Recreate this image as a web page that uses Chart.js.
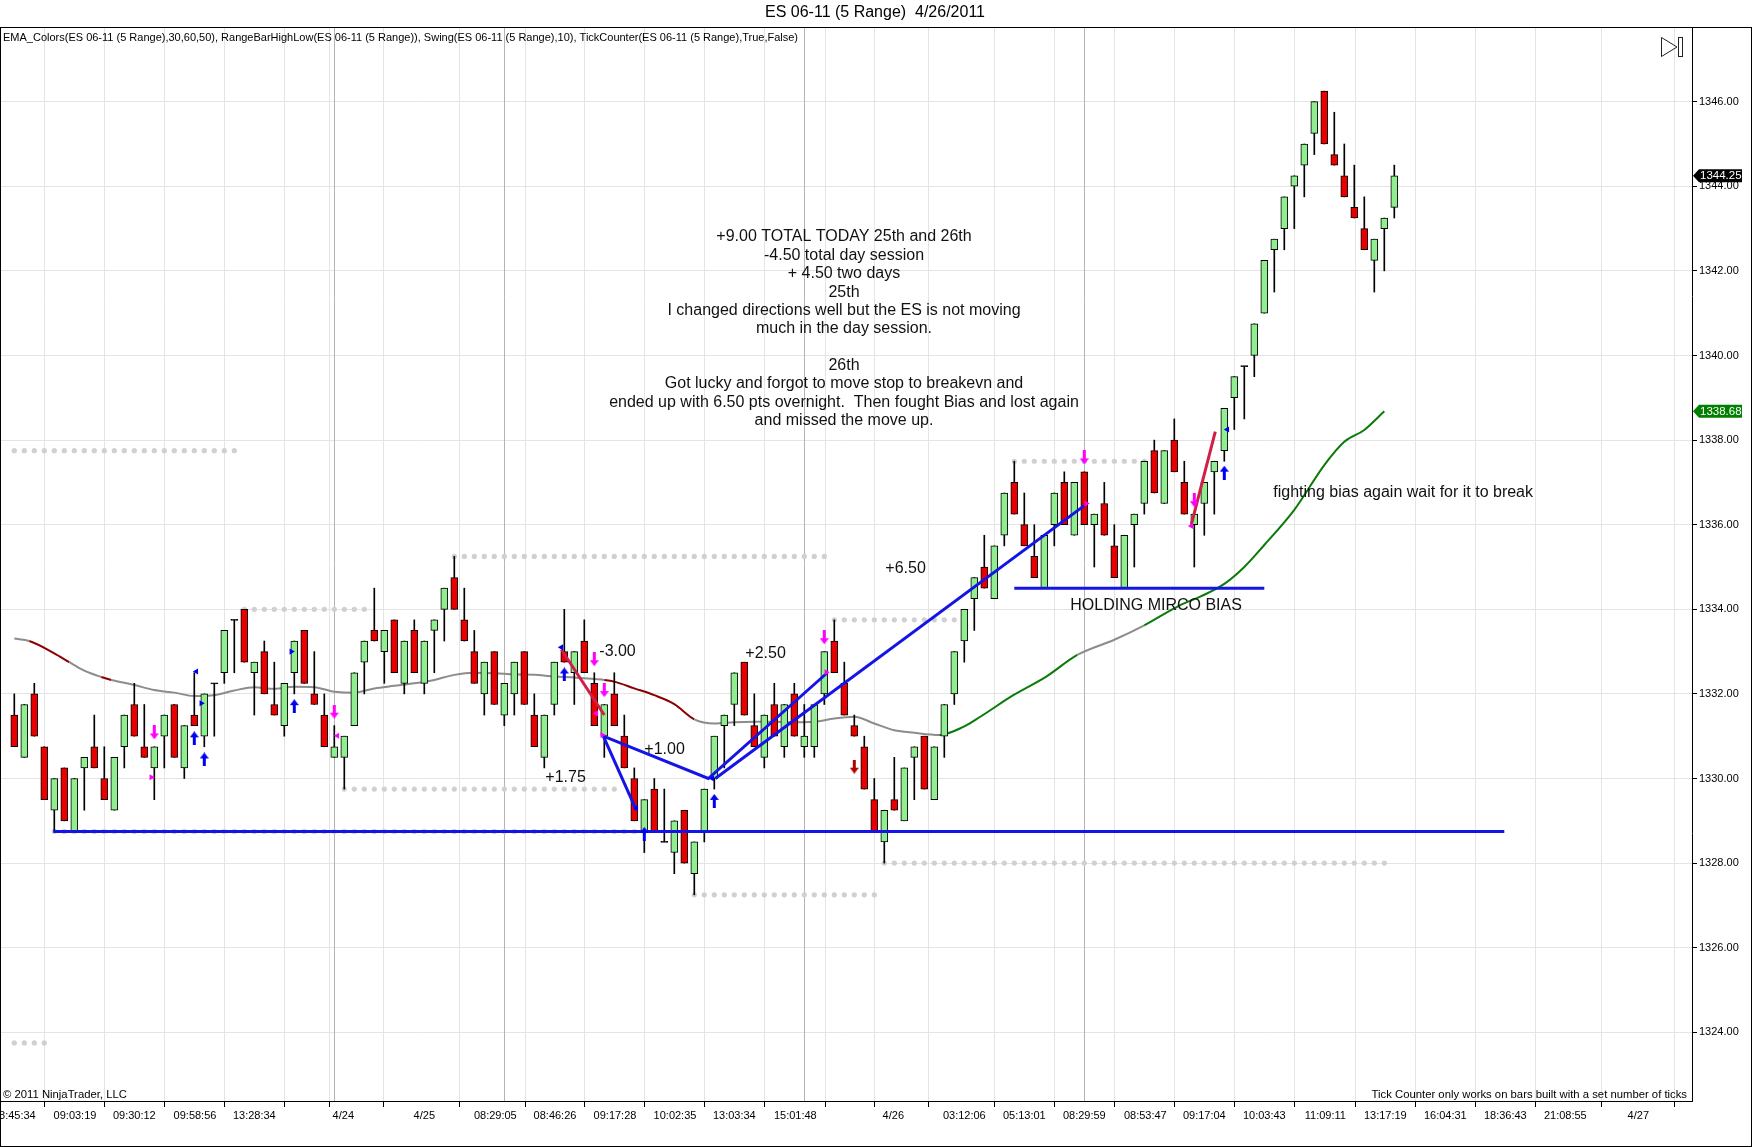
<!DOCTYPE html>
<html>
<head>
<meta charset="utf-8">
<title>ES 06-11 (5 Range) 4/26/2011</title>
<script src="https://cdn.jsdelivr.net/npm/chart.js@4.4.1/dist/chart.umd.min.js"></script>
<style>
  html, body { margin: 0; padding: 0; background: #fff; }
  #wrap { width: 1752px; height: 1147px; }
</style>
</head>
<body>
<div id="wrap"><canvas id="chart" width="1752" height="1147"></canvas></div>
<script>
// range bars (5 ticks), oldest first
const opens = [
  1331.50, 1330.50, 1332.00, 1330.75, 1329.25, 1330.25, 1328.75, 1330.25, 1330.75, 1330.00,
  1329.25, 1330.75, 1331.75, 1330.75, 1330.25, 1331.00, 1331.75, 1330.25, 1331.50, 1331.00,
  1332.25, 1332.50, 1333.75, 1334.00, 1332.50, 1333.00, 1331.75, 1331.25, 1332.50, 1333.50,
  1332.00, 1331.50, 1330.50, 1330.50, 1331.25, 1332.75, 1333.50, 1333.00, 1333.75, 1332.25,
  1333.50, 1332.25, 1333.50, 1334.00, 1334.75, 1333.75, 1333.00, 1332.00, 1333.00, 1331.50,
  1332.00, 1333.00, 1331.50, 1330.50, 1331.75, 1333.00, 1332.50, 1333.25, 1332.25, 1331.00,
  1332.00, 1331.00, 1330.00, 1328.75, 1329.75, 1328.50, 1328.25, 1329.25, 1327.75, 1328.75,
  1330.00, 1331.25, 1331.75, 1332.75, 1331.25, 1330.50, 1331.75, 1330.75, 1332.00, 1330.75,
  1330.75, 1332.00, 1333.25, 1332.25, 1331.25, 1330.75, 1329.50, 1328.50, 1329.50, 1329.00,
  1330.50, 1331.00, 1329.50, 1331.00, 1332.00, 1333.25, 1334.25, 1335.00, 1334.25, 1335.75,
  1337.00, 1336.00, 1335.25, 1334.50, 1336.00, 1337.00, 1335.75, 1337.25, 1336.00, 1336.50,
  1335.50, 1334.50, 1336.00, 1336.50, 1337.75, 1336.50, 1338.00, 1337.00, 1336.00, 1336.50,
  1337.25, 1337.75, 1339.00, 1339.75, 1340.00, 1341.00, 1342.50, 1343.00, 1344.00, 1344.50,
  1345.25, 1346.25, 1344.75, 1344.25, 1343.50, 1343.00, 1342.25, 1343.00, 1343.50
];
const highs = [
  1332.00, 1331.75, 1332.25, 1330.75, 1330.00, 1330.25, 1330.00, 1330.50, 1331.50, 1330.75,
  1330.50, 1331.50, 1332.25, 1331.75, 1330.75, 1331.50, 1331.75, 1331.25, 1332.50, 1332.00,
  1332.25, 1333.50, 1333.75, 1334.00, 1332.75, 1333.25, 1332.75, 1332.25, 1333.25, 1333.50,
  1333.00, 1332.00, 1331.25, 1331.00, 1332.50, 1333.25, 1334.50, 1333.50, 1333.75, 1333.25,
  1333.75, 1333.25, 1333.75, 1334.50, 1335.25, 1334.50, 1333.50, 1332.75, 1333.00, 1332.25,
  1332.75, 1333.00, 1332.00, 1331.50, 1332.75, 1334.00, 1333.00, 1333.75, 1332.50, 1331.75,
  1332.50, 1331.50, 1330.25, 1329.50, 1330.00, 1329.75, 1329.00, 1329.25, 1328.50, 1329.75,
  1331.00, 1331.50, 1332.50, 1332.75, 1332.00, 1331.50, 1332.25, 1331.75, 1332.25, 1331.75,
  1331.75, 1333.00, 1333.75, 1332.75, 1331.50, 1331.00, 1330.00, 1329.25, 1330.50, 1330.25,
  1330.75, 1331.00, 1330.75, 1331.75, 1333.00, 1334.00, 1334.75, 1335.75, 1335.50, 1336.75,
  1337.50, 1336.75, 1336.00, 1335.75, 1336.75, 1337.25, 1337.00, 1337.25, 1336.25, 1337.00,
  1336.00, 1335.75, 1336.25, 1337.50, 1338.00, 1337.75, 1338.50, 1337.50, 1336.25, 1337.00,
  1337.50, 1338.75, 1339.50, 1339.75, 1340.75, 1342.25, 1342.75, 1343.75, 1344.25, 1345.00,
  1346.00, 1346.25, 1345.75, 1345.00, 1344.50, 1343.75, 1342.75, 1343.25, 1344.50
];
const lows = [
  1330.75, 1330.50, 1331.00, 1329.50, 1328.75, 1329.00, 1328.75, 1329.25, 1330.25, 1329.50,
  1329.25, 1330.25, 1331.00, 1330.50, 1329.50, 1330.25, 1330.50, 1330.00, 1331.25, 1330.75,
  1331.00, 1332.25, 1332.50, 1332.75, 1331.50, 1332.00, 1331.50, 1331.00, 1332.00, 1332.25,
  1331.75, 1330.75, 1330.50, 1329.75, 1331.25, 1332.00, 1333.25, 1332.25, 1332.50, 1332.00,
  1332.50, 1332.00, 1332.50, 1333.25, 1334.00, 1333.25, 1332.25, 1331.50, 1331.75, 1331.25,
  1331.50, 1331.75, 1330.75, 1330.25, 1331.50, 1332.75, 1331.75, 1332.50, 1331.25, 1330.50,
  1331.25, 1330.25, 1329.00, 1328.25, 1328.75, 1328.50, 1327.75, 1328.00, 1327.25, 1328.50,
  1329.75, 1330.25, 1331.25, 1331.50, 1330.75, 1330.25, 1331.00, 1330.50, 1331.00, 1330.50,
  1330.50, 1331.75, 1332.50, 1331.50, 1331.00, 1329.75, 1328.75, 1328.00, 1329.25, 1329.00,
  1329.50, 1329.75, 1329.50, 1330.50, 1331.75, 1332.75, 1333.50, 1334.50, 1334.25, 1335.50,
  1336.25, 1335.50, 1334.75, 1334.50, 1335.50, 1336.00, 1335.75, 1336.00, 1335.00, 1335.75,
  1334.75, 1334.50, 1335.00, 1336.25, 1336.75, 1336.50, 1337.25, 1336.25, 1335.00, 1335.75,
  1336.25, 1337.50, 1338.25, 1338.50, 1339.50, 1341.00, 1341.50, 1342.50, 1343.00, 1343.75,
  1344.75, 1345.00, 1344.50, 1343.75, 1343.25, 1342.50, 1341.50, 1342.00, 1343.25
];
const closes = [
  1330.75, 1331.75, 1331.00, 1329.50, 1330.00, 1329.00, 1330.00, 1330.50, 1330.25, 1329.50,
  1330.50, 1331.50, 1331.00, 1330.50, 1330.75, 1331.50, 1330.50, 1331.25, 1331.25, 1332.00,
  1332.25, 1333.50, 1333.75, 1332.75, 1332.75, 1332.00, 1331.50, 1332.25, 1333.25, 1332.25,
  1331.75, 1330.75, 1330.75, 1331.00, 1332.50, 1333.25, 1333.25, 1333.50, 1332.50, 1333.25,
  1332.50, 1333.25, 1333.75, 1334.50, 1334.00, 1333.25, 1332.25, 1332.75, 1331.75, 1332.25,
  1332.75, 1331.75, 1330.75, 1331.50, 1332.75, 1332.75, 1333.00, 1332.50, 1331.25, 1331.75,
  1331.25, 1330.25, 1329.00, 1329.50, 1328.75, 1328.50, 1329.00, 1328.00, 1328.50, 1329.75,
  1331.00, 1331.50, 1332.50, 1331.50, 1330.75, 1331.50, 1331.00, 1331.75, 1331.00, 1331.00,
  1331.75, 1333.00, 1332.50, 1331.50, 1331.00, 1329.75, 1328.75, 1329.25, 1329.25, 1330.25,
  1330.75, 1329.75, 1330.75, 1331.75, 1333.00, 1334.00, 1334.75, 1334.50, 1335.50, 1336.75,
  1336.25, 1335.50, 1334.75, 1335.75, 1336.75, 1336.00, 1337.00, 1336.00, 1336.25, 1335.75,
  1334.75, 1335.75, 1336.25, 1337.50, 1336.75, 1337.75, 1337.25, 1336.25, 1336.25, 1337.00,
  1337.50, 1338.75, 1339.50, 1339.75, 1340.75, 1342.25, 1342.75, 1343.75, 1344.25, 1345.00,
  1346.00, 1345.00, 1344.50, 1343.75, 1343.25, 1342.50, 1342.75, 1343.25, 1344.25
];

// EMA line; tone: g = grey, r = dark red, n = green
const emaX = [0, 1.5, 4, 5.5, 7, 8.7, 9.7, 12, 14, 16, 18, 20, 22, 24, 26, 28, 30, 32, 34, 36,
  38, 40, 42, 44, 46, 48, 50, 52, 54, 56, 58, 59, 60, 62, 64, 66, 68, 70, 72, 74,
  76, 78, 80, 82, 84, 86, 88, 90, 92.5, 94.9, 96.6, 99.9, 103.2, 106.3, 110, 113, 116.6, 118.6, 121, 123,
  125, 128, 131, 133, 135, 137];
const emaY = [1333.31, 1333.25, 1332.96, 1332.75, 1332.55, 1332.40, 1332.33, 1332.21, 1332.09, 1332.03,
  1331.95, 1331.97, 1332.08, 1332.16, 1332.12, 1332.17, 1332.16, 1332.05, 1332.03, 1332.13,
  1332.19, 1332.25, 1332.33, 1332.45, 1332.50, 1332.49, 1332.46, 1332.45, 1332.41, 1332.39,
  1332.35, 1332.33, 1332.29, 1332.13, 1331.97, 1331.76, 1331.40, 1331.30, 1331.33, 1331.34,
  1331.34, 1331.33, 1331.34, 1331.42, 1331.46, 1331.30, 1331.14, 1331.08, 1331.03, 1331.22,
  1331.46, 1331.97, 1332.41, 1332.92, 1333.28, 1333.62, 1334.10, 1334.30, 1334.60, 1335.00,
  1335.52, 1336.35, 1337.41, 1337.96, 1338.24, 1338.68];
const emaTone = ['g', 'r', 'r', 'g', 'g', 'r', 'g', 'g', 'g', 'g', 'g', 'g', 'g', 'g', 'g', 'g', 'g', 'g', 'g', 'g',
  'g', 'g', 'g', 'g', 'g', 'g', 'g', 'g', 'g', 'g', 'g', 'r', 'r', 'r', 'r', 'r', 'g', 'g', 'g', 'g',
  'g', 'g', 'g', 'g', 'g', 'g', 'g', 'g', 'n', 'n', 'n', 'n', 'n', 'g', 'g', 'n', 'n', 'n', 'n', 'n',
  'n', 'n', 'n', 'n', 'n', 'n'];

// swing levels (grey dotted rows)
const swingPrice = [1337.75, 1335.25, 1334.00, 1333.75, 1337.50, 1329.75, 1328.75, 1327.25, 1328.00, 1323.75];
const swingFrom = [0, 44, 23, 82, 100, 33, 4, 68, 87, 0];
const swingTo = [22, 81, 35, 95, 113, 60, 63, 86, 137, 3];

// hand drawn trend lines [bar, price]
const blueLines = [
  [[3.9, 1328.75], [149, 1328.75]],
  [[100, 1334.5], [125, 1334.5]],
  [[58.9, 1331.0], [62.2, 1329.25]],
  [[58.9, 1331.0], [69.4, 1330.0], [81.3, 1332.5]],
  [[70.1, 1330.0], [107, 1336.45]]
];
const redLines = [
  [[54.7, 1333.05], [59.0, 1331.5]],
  [[117.7, 1336.0], [120.1, 1338.2]]
];

// signal arrows and markers [bar, price]
const blueUp = [[18, 1330.95], [19, 1330.45], [28, 1331.71], [55, 1332.46], [63, 1328.69], [70, 1329.47], [121, 1337.23]];
const pinkDown = [[14, 1331.09], [32, 1331.58], [58, 1332.82], [59, 1332.09], [81, 1333.34], [107, 1337.59], [118, 1336.58]];
const redDown = [[84, 1330.28]];
const blueTriLeft = [[18.2, 1332.53], [54.7, 1333.1], [121.3, 1338.25], [62.2, 1329.3], [69.8, 1330.0]];
const blueTriRight = [[18.7, 1331.78], [27.7, 1333.0]];
const pinkTriLeft = [[32.3, 1331.01], [117.7, 1335.97], [58.2, 1331.54]];
const pinkTriRight = [[13.7, 1330.03], [58.8, 1331.03], [81.2, 1332.51], [107.2, 1336.5]];

// notes [text, bar, price]
const notes = [
  ['-3.00', 58.5, 1333.0],
  ['+2.50', 73.1, 1332.96],
  ['+1.00', 63.0, 1330.69],
  ['+1.75', 53.1, 1330.03],
  ['+6.50', 87.1, 1334.97],
  ['HOLDING MIRCO BIAS', 105.6, 1334.08],
  ['fighting bias again wait for it to break', 125.9, 1336.76]
];
const commentLines = [
  '+9.00 TOTAL TODAY 25th and 26th',
  '-4.50 total day session',
  '+ 4.50 two days',
  '25th',
  'I changed directions well but the ES is not moving',
  'much in the day session.',
  '',
  '26th',
  'Got lucky and forgot to move stop to breakevn and',
  'ended up with 6.50 pts overnight.  Then fought Bias and lost again',
  'and missed the move up.'
];
const commentAt = [82.97, 1342.80];

// axis ticks
const xTickPos = [0, 6.07, 12, 18.07, 24, 30.07, 32.9, 41, 48.1, 54.07, 60.07, 66.07, 72, 78.1, 84.1, 87.9,
  95, 101, 107, 113.1, 119, 125, 131.1, 137.1, 143.1, 149.1, 155.1, 162.4];
const xTickLabels = ['08:45:34', '09:03:19', '09:30:12', '09:58:56', '13:28:34', '', '4/24', '4/25', '08:29:05',
  '08:46:26', '09:17:28', '10:02:35', '13:03:34', '15:01:48', '', '4/26', '03:12:06', '05:13:01', '08:29:59',
  '08:53:47', '09:17:04', '10:03:43', '11:09:11', '13:17:19', '16:04:31', '18:36:43', '21:08:55', '4/27'];
const yTickValues = [1324, 1326, 1328, 1330, 1332, 1334, 1336, 1338, 1340, 1342, 1344, 1346];
const sessionBreaks = [32, 49, 79, 107];
const lastPrice = 1344.25;
const lastEma = 1338.68;

const FONT = '"Liberation Sans", Arial, sans-serif';
const UP = '#90EE90', DOWN = '#E80000';
const toneColor = { g: '#8c8c8c', r: '#8B0000', n: '#0A7A0A' };

function arrowImage(color, down) {
  const c = document.createElement('canvas');
  c.width = 9; c.height = 14;
  const g = c.getContext('2d');
  g.fillStyle = color;
  g.beginPath();
  if (!down) {
    g.moveTo(4.5, 0); g.lineTo(9, 6); g.lineTo(6, 6); g.lineTo(6, 14); g.lineTo(3, 14); g.lineTo(3, 6); g.lineTo(0, 6);
  } else {
    g.moveTo(4.5, 14); g.lineTo(9, 8); g.lineTo(6, 8); g.lineTo(6, 0); g.lineTo(3, 0); g.lineTo(3, 8); g.lineTo(0, 8);
  }
  g.closePath();
  g.fill();
  return c;
}

const bars = opens.map((_, i) => i);
const pts = arr => arr.map(p => ({ x: p[0], y: p[1] }));

const swingDots = [];
swingPrice.forEach((p, k) => {
  for (let i = swingFrom[k]; i <= swingTo[k]; i++) swingDots.push({ x: i, y: p });
});

const datasets = [];

function markers(list, style, color, rot, r, order) {
  datasets.push({
    type: 'scatter', data: pts(list), pointStyle: style, rotation: rot || 0,
    pointRadius: r, backgroundColor: color, borderColor: color, borderWidth: 0, order: order
  });
}
markers(blueUp, arrowImage('#0000F0', false), '#0000F0', 0, 5, 0);
markers(pinkDown, arrowImage('#FF00FF', true), '#FF00FF', 0, 5, 0);
markers(redDown, arrowImage('#B00000', true), '#B00000', 0, 5, 0);
markers(blueTriLeft, 'triangle', '#0000F0', -90, 3.5, 0);
markers(blueTriRight, 'triangle', '#0000F0', 90, 3.5, 0);
markers(pinkTriLeft, 'triangle', '#FF00FF', -90, 3.5, 0);
markers(pinkTriRight, 'triangle', '#FF00FF', 90, 3.5, 0);

blueLines.forEach(l => datasets.push({
  type: 'line', data: pts(l), borderColor: '#1414E6', borderWidth: 3, pointRadius: 0, order: 1
}));
redLines.forEach(l => datasets.push({
  type: 'line', data: pts(l), borderColor: '#D21E46', borderWidth: 3, pointRadius: 0, order: 1
}));

datasets.push({
  type: 'bar',
  data: bars.map(i => {
    const o = opens[i], c = closes[i];
    return { x: i, y: o === c ? [o - 0.012, o + 0.012] : [Math.min(o, c), Math.max(o, c)] };
  }),
  backgroundColor: bars.map(i => closes[i] > opens[i] ? UP : closes[i] < opens[i] ? DOWN : '#000'),
  borderColor: '#000', borderWidth: 1, borderSkipped: false,
  barThickness: 7, grouped: false, order: 2
});
datasets.push({
  type: 'bar',
  data: bars.map(i => ({ x: i, y: [lows[i], highs[i]] })),
  backgroundColor: '#000', borderWidth: 0, barThickness: 1, grouped: false, order: 3
});

datasets.push({
  type: 'line',
  data: emaX.map((x, k) => ({ x: x, y: emaY[k] })),
  borderWidth: 2, pointRadius: 0, cubicInterpolationMode: 'monotone',
  borderColor: toneColor.g,
  segment: { borderColor: ctx => toneColor[emaTone[ctx.p0DataIndex]] },
  order: 4
});

datasets.push({
  type: 'scatter', data: swingDots, pointRadius: 2.6,
  backgroundColor: '#d0d0d0', borderWidth: 0, order: 5
});

const frame = {
  id: 'frame',
  beforeDraw(chart) {
    const ctx = chart.ctx;
    ctx.save();
    ctx.fillStyle = '#fff';
    ctx.fillRect(0, 0, chart.width, chart.height);
    ctx.restore();
  },
  beforeDatasetsDraw(chart) {
    const { ctx, chartArea: a, scales: { x } } = chart;
    ctx.save();
    ctx.strokeStyle = '#b4b4b4';
    ctx.lineWidth = 1;
    sessionBreaks.forEach(b => {
      const px = Math.round(x.getPixelForValue(b)) + 0.5;
      ctx.beginPath(); ctx.moveTo(px, a.top); ctx.lineTo(px, a.bottom); ctx.stroke();
    });
    ctx.restore();
  },
  afterDraw(chart) {
    const { ctx, chartArea: a, scales: { x, y } } = chart;
    ctx.save();
    // outer box
    ctx.strokeStyle = '#000';
    ctx.lineWidth = 1;
    ctx.strokeRect(0.5, 27.5, chart.width - 1, chart.height - 28);

    ctx.fillStyle = '#000';
    ctx.textBaseline = 'middle';
    ctx.textAlign = 'center';
    ctx.font = '16px ' + FONT;
    ctx.fillText('ES 06-11 (5 Range)  4/26/2011', 875, 13);

    ctx.textAlign = 'left';
    ctx.font = '11px ' + FONT;
    ctx.fillText('EMA_Colors(ES 06-11 (5 Range),30,60,50), RangeBarHighLow(ES 06-11 (5 Range)), Swing(ES 06-11 (5 Range),10), TickCounter(ES 06-11 (5 Range),True,False)', 3, 38);
    ctx.font = '11.3px ' + FONT;
    ctx.fillText('\u00A9 2011 NinjaTrader, LLC', 3, a.bottom - 6);
    ctx.textAlign = 'right';
    ctx.fillText('Tick Counter only works on bars built with a set number of ticks', a.right - 5, a.bottom - 6);

    // play-to-end icon
    ctx.strokeStyle = '#222';
    ctx.beginPath();
    ctx.moveTo(1661.5, 37.5); ctx.lineTo(1677, 47); ctx.lineTo(1661.5, 56.5); ctx.closePath();
    ctx.stroke();
    ctx.strokeRect(1678.5, 37.5, 4, 19);

    // notes
    ctx.fillStyle = '#111';
    ctx.font = '16px ' + FONT;
    ctx.textAlign = 'left';
    notes.forEach(n => ctx.fillText(n[0], x.getPixelForValue(n[1]), y.getPixelForValue(n[2])));
    ctx.textAlign = 'center';
    const cx = x.getPixelForValue(commentAt[0]);
    const cy = y.getPixelForValue(commentAt[1]);
    commentLines.forEach((t, k) => ctx.fillText(t, cx, cy + k * 18.35));

    // price tags
    function tag(price, bg) {
      const py = y.getPixelForValue(price);
      const l = a.right + 1;
      ctx.fillStyle = bg;
      ctx.beginPath();
      ctx.moveTo(l, py); ctx.lineTo(l + 6, py - 6.5); ctx.lineTo(l + 49, py - 6.5);
      ctx.lineTo(l + 49, py + 6.5); ctx.lineTo(l + 6, py + 6.5); ctx.closePath();
      ctx.fill();
      ctx.fillStyle = '#fff';
      ctx.font = '11.5px ' + FONT;
      ctx.textAlign = 'left';
      ctx.fillText(price.toFixed(2), l + 7, py + 0.5);
    }
    tag(lastPrice, '#000');
    tag(lastEma, '#008000');
    ctx.restore();
  }
};

Chart.defaults.font.family = FONT;
Chart.defaults.font.size = 11;
Chart.defaults.color = '#000';

new Chart(document.getElementById('chart'), {
  type: 'bar',
  data: { datasets: datasets },
  options: {
    responsive: false,
    devicePixelRatio: 1,
    animation: false,
    events: [],
    layout: { padding: { top: 28, left: 1, right: 0, bottom: 0 }, autoPadding: false },
    plugins: { legend: { display: false }, tooltip: { enabled: false }, title: { display: false } },
    scales: {
      x: {
        type: 'linear', min: -1.33, max: 167.77, offset: false,
        afterBuildTicks: s => { s.ticks = xTickPos.map(v => ({ value: v })); },
        afterFit: s => { s.height = 46; s.paddingLeft = 0; s.paddingRight = 0; },
        ticks: { autoSkip: false, maxRotation: 0, padding: 2, callback: (v, i) => xTickLabels[i] },
        grid: { color: '#e4e4e4', tickColor: '#000', tickLength: 6 },
        border: { color: '#000' }
      },
      y: {
        type: 'linear', position: 'right', min: 1322.376, max: 1347.742,
        afterBuildTicks: s => { s.ticks = yTickValues.map(v => ({ value: v })); },
        afterFit: s => { s.width = 60; s.paddingTop = 0; s.paddingBottom = 0; },
        ticks: { padding: 2, callback: v => Number(v).toFixed(2) },
        grid: { color: '#e4e4e4', tickColor: '#000', tickLength: 5 },
        border: { color: '#000' }
      }
    }
  },
  plugins: [frame]
});
</script>
</body>
</html>
